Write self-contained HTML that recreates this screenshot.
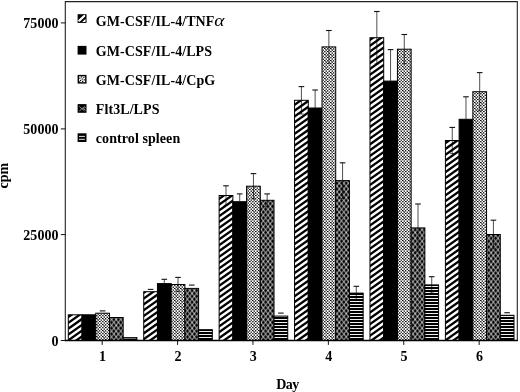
<!DOCTYPE html>
<html lang="en"><head><meta charset="utf-8"><title>cpm by Day</title>
<style>
html,body{margin:0;padding:0;background:#fff;}
body{width:520px;height:392px;overflow:hidden;}
svg{display:block;}
text{font-family:"Liberation Serif","DejaVu Serif",serif;font-weight:bold;font-size:14px;fill:#000;}
</style></head><body>
<svg width="520" height="392" viewBox="0 0 520 392">
<defs>
<pattern id="p1" patternUnits="userSpaceOnUse" width="82" height="58" x="0" y="0"><rect width="82" height="58" fill="#fff"/><path d="M-5,-8.063 L87,-73.137 M-5,-2.263 L87,-67.337 M-5,3.537 L87,-61.537 M-5,9.337 L87,-55.737 M-5,15.137 L87,-49.937 M-5,20.937 L87,-44.137 M-5,26.737 L87,-38.337 M-5,32.537 L87,-32.537 M-5,38.337 L87,-26.737 M-5,44.137 L87,-20.937 M-5,49.937 L87,-15.137 M-5,55.737 L87,-9.337 M-5,61.537 L87,-3.537 M-5,67.337 L87,2.263 M-5,73.137 L87,8.063 M-5,78.937 L87,13.863 M-5,84.737 L87,19.663 M-5,90.537 L87,25.463 M-5,96.337 L87,31.263 M-5,102.137 L87,37.063 M-5,107.937 L87,42.863 M-5,113.737 L87,48.663 M-5,119.537 L87,54.463 M-5,125.337 L87,60.263 M-5,131.137 L87,66.063 M-5,136.937 L87,71.863" stroke="#000" stroke-width="2.3" fill="none"/></pattern>
<pattern id="p3" patternUnits="userSpaceOnUse" width="6" height="6" x="0" y="0">
<rect width="6" height="6" fill="#fff"/>
<g fill="#000">
<rect x="0" y="0" width="1.5" height="1.1"/><rect x="3" y="0.2" width="1.3" height="1.3"/>
<rect x="1.5" y="1.5" width="1.5" height="1.2"/><rect x="4.6" y="1.6" width="1.4" height="1.1"/>
<rect x="0.2" y="3" width="1.3" height="1.3"/><rect x="3" y="3" width="1.6" height="1.1"/>
<rect x="1.6" y="4.5" width="1.4" height="1.2"/><rect x="4.5" y="4.6" width="1.5" height="1.2"/>
<rect x="1.0" y="0.9" width="0.7" height="0.7"/>
</g>
</pattern>
<pattern id="p4" patternUnits="userSpaceOnUse" width="46" height="58" x="1.2" y="0.5"><rect width="46" height="58" fill="#000"/><path d="M-5,-63.296 L51,-133.904 M-5,-75.904 L51,-5.296 M-5,-57.496 L51,-128.104 M-5,-70.104 L51,0.504 M-5,-51.696 L51,-122.304 M-5,-64.304 L51,6.304 M-5,-45.896 L51,-116.504 M-5,-58.504 L51,12.104 M-5,-40.096 L51,-110.704 M-5,-52.704 L51,17.904 M-5,-34.296 L51,-104.904 M-5,-46.904 L51,23.704 M-5,-28.496 L51,-99.104 M-5,-41.104 L51,29.504 M-5,-22.696 L51,-93.304 M-5,-35.304 L51,35.304 M-5,-16.896 L51,-87.504 M-5,-29.504 L51,41.104 M-5,-11.096 L51,-81.704 M-5,-23.704 L51,46.904 M-5,-5.296 L51,-75.904 M-5,-17.904 L51,52.704 M-5,0.504 L51,-70.104 M-5,-12.104 L51,58.504 M-5,6.304 L51,-64.304 M-5,-6.304 L51,64.304 M-5,12.104 L51,-58.504 M-5,-0.504 L51,70.104 M-5,17.904 L51,-52.704 M-5,5.296 L51,75.904 M-5,23.704 L51,-46.904 M-5,11.096 L51,81.704 M-5,29.504 L51,-41.104 M-5,16.896 L51,87.504 M-5,35.304 L51,-35.304 M-5,22.696 L51,93.304 M-5,41.104 L51,-29.504 M-5,28.496 L51,99.104 M-5,46.904 L51,-23.704 M-5,34.296 L51,104.904 M-5,52.704 L51,-17.904 M-5,40.096 L51,110.704 M-5,58.504 L51,-12.104 M-5,45.896 L51,116.504 M-5,64.304 L51,-6.304 M-5,51.696 L51,122.304 M-5,70.104 L51,-0.504 M-5,57.496 L51,128.104 M-5,75.904 L51,5.296 M-5,63.296 L51,133.904 M-5,81.704 L51,11.096 M-5,69.096 L51,139.704 M-5,87.504 L51,16.896 M-5,74.896 L51,145.504 M-5,93.304 L51,22.696 M-5,80.696 L51,151.304 M-5,99.104 L51,28.496 M-5,86.496 L51,157.104 M-5,104.904 L51,34.296 M-5,92.296 L51,162.904 M-5,110.704 L51,40.096 M-5,98.096 L51,168.704 M-5,116.504 L51,45.896 M-5,103.896 L51,174.504 M-5,122.304 L51,51.696 M-5,109.696 L51,180.304 M-5,128.104 L51,57.496 M-5,115.496 L51,186.104 M-5,133.904 L51,63.296 M-5,121.296 L51,191.904 M-5,139.704 L51,69.096 M-5,127.096 L51,197.704 M-5,145.504 L51,74.896 M-5,132.896 L51,203.504 M-5,151.304 L51,80.696 M-5,138.696 L51,209.304 M-5,157.104 L51,86.496 M-5,144.496 L51,215.104 M-5,162.904 L51,92.296 M-5,150.296 L51,220.904 M-5,168.704 L51,98.096 M-5,156.096 L51,226.704 M-5,174.504 L51,103.896 M-5,161.896 L51,232.504 M-5,180.304 L51,109.696 M-5,167.696 L51,238.304 M-5,186.104 L51,115.496 M-5,173.496 L51,244.104 M-5,191.904 L51,121.296 M-5,179.296 L51,249.904 M-5,197.704 L51,127.096 M-5,185.096 L51,255.704 M-5,203.504 L51,132.896 M-5,190.896 L51,261.504 M-5,209.304 L51,138.696 M-5,196.696 L51,267.304" stroke="#eee" stroke-width="0.9" fill="none"/></pattern>
<pattern id="p5" patternUnits="userSpaceOnUse" width="10" height="60" x="0" y="41"><rect width="10" height="60" fill="#000"/><rect y="2.00" width="10" height="1" fill="#f0f0f0"/><rect y="5.00" width="10" height="1" fill="#f0f0f0"/><rect y="8.00" width="10" height="1" fill="#f0f0f0"/><rect y="11.00" width="10" height="1" fill="#f0f0f0"/><rect y="14.00" width="10" height="1" fill="#f0f0f0"/><rect y="17.00" width="10" height="1" fill="#f0f0f0"/><rect y="20.00" width="10" height="1" fill="#f0f0f0"/><rect y="23.00" width="10" height="1" fill="#f0f0f0"/><rect y="26.00" width="10" height="1" fill="#f0f0f0"/><rect y="29.00" width="10" height="1" fill="#f0f0f0"/><rect y="32.00" width="10" height="1" fill="#f0f0f0"/><rect y="35.00" width="10" height="1" fill="#f0f0f0"/><rect y="38.00" width="10" height="1" fill="#f0f0f0"/><rect y="41.00" width="10" height="1" fill="#f0f0f0"/><rect y="44.00" width="10" height="1" fill="#f0f0f0"/><rect y="47.00" width="10" height="1" fill="#f0f0f0"/><rect y="50.00" width="10" height="1" fill="#f0f0f0"/><rect y="53.00" width="10" height="1" fill="#f0f0f0"/><rect y="56.00" width="10" height="1" fill="#f0f0f0"/><rect y="59.00" width="10" height="1" fill="#f0f0f0"/></pattern>
</defs>
<rect width="520" height="392" fill="#fff"/>

<rect x="68.30" y="314.80" width="13.72" height="25.70" fill="url(#p1)" stroke="#000" stroke-width="1"/>
<rect x="82.02" y="314.80" width="13.72" height="25.70" fill="#000" stroke="#000" stroke-width="1"/>
<rect x="95.74" y="313.20" width="13.72" height="27.30" fill="url(#p3)" stroke="#000" stroke-width="1"/>
<path d="M99.80,310.90 H105.40" stroke="#111" stroke-width="1.1" fill="none"/>
<rect x="109.46" y="317.50" width="13.72" height="23.00" fill="url(#p4)" stroke="#000" stroke-width="1"/>
<rect x="123.18" y="337.50" width="13.72" height="3.00" fill="url(#p5)" stroke="#000" stroke-width="1"/>
<rect x="143.72" y="291.70" width="13.72" height="48.80" fill="url(#p1)" stroke="#000" stroke-width="1"/>
<path d="M147.78,289.40 H153.38" stroke="#111" stroke-width="1.1" fill="none"/>
<rect x="157.44" y="283.60" width="13.72" height="56.90" fill="#000" stroke="#000" stroke-width="1"/>
<path d="M164.30,283.60 V279.30" stroke="#222" stroke-width="0.8" fill="none"/>
<path d="M161.50,279.30 H167.10" stroke="#111" stroke-width="1.1" fill="none"/>
<rect x="171.16" y="284.50" width="13.72" height="56.00" fill="url(#p3)" stroke="#000" stroke-width="1"/>
<path d="M178.02,284.50 V277.40" stroke="#222" stroke-width="0.8" fill="none"/>
<path d="M175.22,277.40 H180.82" stroke="#111" stroke-width="1.1" fill="none"/>
<path d="M178.02,284.50 V291.60 M175.82,291.60 H180.22" stroke="#000" stroke-width="0.85" fill="none" opacity="0.8"/>
<rect x="184.88" y="288.40" width="13.72" height="52.10" fill="url(#p4)" stroke="#000" stroke-width="1"/>
<path d="M188.94,285.10 H194.54" stroke="#111" stroke-width="1.1" fill="none"/>
<rect x="198.60" y="329.70" width="13.72" height="10.80" fill="url(#p5)" stroke="#000" stroke-width="1"/>
<rect x="219.14" y="195.50" width="13.72" height="145.00" fill="url(#p1)" stroke="#000" stroke-width="1"/>
<path d="M226.00,195.50 V185.80" stroke="#222" stroke-width="0.8" fill="none"/>
<path d="M223.20,185.80 H228.80" stroke="#111" stroke-width="1.1" fill="none"/>
<path d="M226.00,195.50 V205.20 M223.80,205.20 H228.20" stroke="#000" stroke-width="0.85" fill="none" opacity="0.8"/>
<rect x="232.86" y="201.70" width="13.72" height="138.80" fill="#000" stroke="#000" stroke-width="1"/>
<path d="M239.72,201.70 V193.90" stroke="#222" stroke-width="0.8" fill="none"/>
<path d="M236.92,193.90 H242.52" stroke="#111" stroke-width="1.1" fill="none"/>
<rect x="246.58" y="186.20" width="13.72" height="154.30" fill="url(#p3)" stroke="#000" stroke-width="1"/>
<path d="M253.44,186.20 V173.60" stroke="#222" stroke-width="0.8" fill="none"/>
<path d="M250.64,173.60 H256.24" stroke="#111" stroke-width="1.1" fill="none"/>
<path d="M253.44,186.20 V198.80 M251.24,198.80 H255.64" stroke="#000" stroke-width="0.85" fill="none" opacity="0.8"/>
<rect x="260.30" y="200.30" width="13.72" height="140.20" fill="url(#p4)" stroke="#000" stroke-width="1"/>
<path d="M267.16,200.30 V193.90" stroke="#222" stroke-width="0.8" fill="none"/>
<path d="M264.36,193.90 H269.96" stroke="#111" stroke-width="1.1" fill="none"/>
<path d="M267.16,200.30 V206.70 M264.96,206.70 H269.36" stroke="#000" stroke-width="0.85" fill="none" opacity="0.8"/>
<rect x="274.02" y="316.10" width="13.72" height="24.40" fill="url(#p5)" stroke="#000" stroke-width="1"/>
<path d="M278.08,313.10 H283.68" stroke="#111" stroke-width="1.1" fill="none"/>
<rect x="294.56" y="100.30" width="13.72" height="240.20" fill="url(#p1)" stroke="#000" stroke-width="1"/>
<path d="M301.42,100.30 V86.60" stroke="#222" stroke-width="0.8" fill="none"/>
<path d="M298.62,86.60 H304.22" stroke="#111" stroke-width="1.1" fill="none"/>
<path d="M301.42,100.30 V114.00 M299.22,114.00 H303.62" stroke="#000" stroke-width="0.85" fill="none" opacity="0.8"/>
<rect x="308.28" y="108.00" width="13.72" height="232.50" fill="#000" stroke="#000" stroke-width="1"/>
<path d="M315.14,108.00 V90.00" stroke="#222" stroke-width="0.8" fill="none"/>
<path d="M312.34,90.00 H317.94" stroke="#111" stroke-width="1.1" fill="none"/>
<rect x="322.00" y="46.90" width="13.72" height="293.60" fill="url(#p3)" stroke="#000" stroke-width="1"/>
<path d="M328.86,46.90 V30.50" stroke="#222" stroke-width="0.8" fill="none"/>
<path d="M326.06,30.50 H331.66" stroke="#111" stroke-width="1.1" fill="none"/>
<path d="M328.86,46.90 V63.30 M326.66,63.30 H331.06" stroke="#000" stroke-width="0.85" fill="none" opacity="0.8"/>
<rect x="335.72" y="180.60" width="13.72" height="159.90" fill="url(#p4)" stroke="#000" stroke-width="1"/>
<path d="M342.58,180.60 V162.80" stroke="#222" stroke-width="0.8" fill="none"/>
<path d="M339.78,162.80 H345.38" stroke="#111" stroke-width="1.1" fill="none"/>
<path d="M342.58,180.60 V198.40 M340.38,198.40 H344.78" stroke="#000" stroke-width="0.85" fill="none" opacity="0.8"/>
<rect x="349.44" y="293.10" width="13.72" height="47.40" fill="url(#p5)" stroke="#000" stroke-width="1"/>
<path d="M356.30,293.10 V286.30" stroke="#222" stroke-width="0.8" fill="none"/>
<path d="M353.50,286.30 H359.10" stroke="#111" stroke-width="1.1" fill="none"/>
<path d="M356.30,293.10 V299.90 M354.10,299.90 H358.50" stroke="#000" stroke-width="0.85" fill="none" opacity="0.8"/>
<rect x="369.98" y="37.70" width="13.72" height="302.80" fill="url(#p1)" stroke="#000" stroke-width="1"/>
<path d="M376.84,37.70 V11.50" stroke="#222" stroke-width="0.8" fill="none"/>
<path d="M374.04,11.50 H379.64" stroke="#111" stroke-width="1.1" fill="none"/>
<path d="M376.84,37.70 V63.90 M374.64,63.90 H379.04" stroke="#000" stroke-width="0.85" fill="none" opacity="0.8"/>
<rect x="383.70" y="81.10" width="13.72" height="259.40" fill="#000" stroke="#000" stroke-width="1"/>
<path d="M390.56,81.10 V49.60" stroke="#222" stroke-width="0.8" fill="none"/>
<path d="M387.76,49.60 H393.36" stroke="#111" stroke-width="1.1" fill="none"/>
<rect x="397.42" y="49.20" width="13.72" height="291.30" fill="url(#p3)" stroke="#000" stroke-width="1"/>
<path d="M404.28,49.20 V34.50" stroke="#222" stroke-width="0.8" fill="none"/>
<path d="M401.48,34.50 H407.08" stroke="#111" stroke-width="1.1" fill="none"/>
<path d="M404.28,49.20 V63.90 M402.08,63.90 H406.48" stroke="#000" stroke-width="0.85" fill="none" opacity="0.8"/>
<rect x="411.14" y="227.90" width="13.72" height="112.60" fill="url(#p4)" stroke="#000" stroke-width="1"/>
<path d="M418.00,227.90 V204.00" stroke="#222" stroke-width="0.8" fill="none"/>
<path d="M415.20,204.00 H420.80" stroke="#111" stroke-width="1.1" fill="none"/>
<path d="M418.00,227.90 V251.80 M415.80,251.80 H420.20" stroke="#000" stroke-width="0.85" fill="none" opacity="0.8"/>
<rect x="424.86" y="284.90" width="13.72" height="55.60" fill="url(#p5)" stroke="#000" stroke-width="1"/>
<path d="M431.72,284.90 V276.70" stroke="#222" stroke-width="0.8" fill="none"/>
<path d="M428.92,276.70 H434.52" stroke="#111" stroke-width="1.1" fill="none"/>
<path d="M431.72,284.90 V293.10 M429.52,293.10 H433.92" stroke="#000" stroke-width="0.85" fill="none" opacity="0.8"/>
<rect x="445.40" y="140.50" width="13.72" height="200.00" fill="url(#p1)" stroke="#000" stroke-width="1"/>
<path d="M452.26,140.50 V127.40" stroke="#222" stroke-width="0.8" fill="none"/>
<path d="M449.46,127.40 H455.06" stroke="#111" stroke-width="1.1" fill="none"/>
<path d="M452.26,140.50 V153.60 M450.06,153.60 H454.46" stroke="#000" stroke-width="0.85" fill="none" opacity="0.8"/>
<rect x="459.12" y="119.30" width="13.72" height="221.20" fill="#000" stroke="#000" stroke-width="1"/>
<path d="M465.98,119.30 V96.80" stroke="#222" stroke-width="0.8" fill="none"/>
<path d="M463.18,96.80 H468.78" stroke="#111" stroke-width="1.1" fill="none"/>
<rect x="472.84" y="91.70" width="13.72" height="248.80" fill="url(#p3)" stroke="#000" stroke-width="1"/>
<path d="M479.70,91.70 V72.60" stroke="#222" stroke-width="0.8" fill="none"/>
<path d="M476.90,72.60 H482.50" stroke="#111" stroke-width="1.1" fill="none"/>
<path d="M479.70,91.70 V110.80 M477.50,110.80 H481.90" stroke="#000" stroke-width="0.85" fill="none" opacity="0.8"/>
<rect x="486.56" y="234.50" width="13.72" height="106.00" fill="url(#p4)" stroke="#000" stroke-width="1"/>
<path d="M493.42,234.50 V220.20" stroke="#222" stroke-width="0.8" fill="none"/>
<path d="M490.62,220.20 H496.22" stroke="#111" stroke-width="1.1" fill="none"/>
<path d="M493.42,234.50 V248.80 M491.22,248.80 H495.62" stroke="#000" stroke-width="0.85" fill="none" opacity="0.8"/>
<rect x="500.28" y="315.30" width="13.72" height="25.20" fill="url(#p5)" stroke="#000" stroke-width="1"/>
<path d="M504.34,312.70 H509.94" stroke="#111" stroke-width="1.1" fill="none"/>
<path d="M123.78,338.3 H136.30" stroke="#9a9a9a" stroke-width="0.9" fill="none"/>
<path d="M65.3,340.5 V1.6 H517.3 V340.5" stroke="#222" stroke-width="1.1" fill="none"/>
<path d="M64.7,340.5 H517.9" stroke="#000" stroke-width="1.5" fill="none"/>
<path d="M60.8,340.5 H65.3" stroke="#111" stroke-width="1" fill="none"/>
<text x="58.7" y="345.7" text-anchor="end" letter-spacing="0.1">0</text>
<path d="M60.8,234.6 H65.3" stroke="#111" stroke-width="1" fill="none"/>
<text x="58.7" y="239.8" text-anchor="end" letter-spacing="0.1">25000</text>
<path d="M60.8,128.9 H65.3" stroke="#111" stroke-width="1" fill="none"/>
<text x="58.7" y="134.1" text-anchor="end" letter-spacing="0.1">50000</text>
<path d="M60.8,22.9 H65.3" stroke="#111" stroke-width="1" fill="none"/>
<text x="58.7" y="28.1" text-anchor="end" letter-spacing="0.1">75000</text>
<path d="M102.20,340.5 V344.9" stroke="#111" stroke-width="1" fill="none"/>
<text x="102.50" y="360.6" text-anchor="middle">1</text>
<path d="M177.59,340.5 V344.9" stroke="#111" stroke-width="1" fill="none"/>
<text x="177.89" y="360.6" text-anchor="middle">2</text>
<path d="M252.98,340.5 V344.9" stroke="#111" stroke-width="1" fill="none"/>
<text x="253.28" y="360.6" text-anchor="middle">3</text>
<path d="M328.37,340.5 V344.9" stroke="#111" stroke-width="1" fill="none"/>
<text x="328.67" y="360.6" text-anchor="middle">4</text>
<path d="M403.76,340.5 V344.9" stroke="#111" stroke-width="1" fill="none"/>
<text x="404.06" y="360.6" text-anchor="middle">5</text>
<path d="M479.15,340.5 V344.9" stroke="#111" stroke-width="1" fill="none"/>
<text x="479.45" y="360.6" text-anchor="middle">6</text>
<text x="276.3" y="388.7" letter-spacing="-0.6">Day</text>
<text transform="translate(8.0,175.7) rotate(-90)" text-anchor="middle">cpm</text>
<rect x="77.6" y="14.2" width="8.9" height="8.7" fill="#000"/>
<path d="M79.2,20.6 L84.2,16.0" stroke="#fff" stroke-width="2.2" stroke-linecap="round" fill="none"/>
<path d="M82.2,21.9 L85.5,18.8 V21.9 Z" fill="#fff"/>
<text x="95.8" y="25.7" letter-spacing="0.08">GM-CSF/IL-4/TNF</text>
<rect x="77.6" y="45.9" width="8.9" height="8.7" fill="#000"/>
<text x="95.8" y="55.5" letter-spacing="0.08">GM-CSF/IL-4/LPS</text>
<rect x="77.6" y="74.9" width="8.9" height="8.7" fill="#000"/>
<rect x="79.0" y="76.3" width="6.1" height="5.9" fill="#fff"/>
<rect x="79.2" y="77.6" width="1.3" height="1.1" fill="#000"/>
<rect x="80.9" y="76.4" width="1.3" height="1.1" fill="#000"/>
<rect x="83.2" y="76.8" width="1.3" height="1.1" fill="#000"/>
<rect x="81.6" y="78.5" width="1.3" height="1.1" fill="#000"/>
<rect x="79.9" y="79.9" width="1.3" height="1.1" fill="#000"/>
<rect x="83.6" y="79.3" width="1.3" height="1.1" fill="#000"/>
<rect x="82.0" y="80.8" width="1.3" height="1.1" fill="#000"/>
<rect x="79.0" y="81.3" width="1.3" height="1.1" fill="#000"/>
<text x="95.8" y="84.6" letter-spacing="0.08">GM-CSF/IL-4/CpG</text>
<rect x="77.6" y="104.1" width="8.9" height="8.7" fill="#000"/>
<path d="M79.3,106.4 L84.6,111.1 M79.3,111.1 L84.6,106.4 M85.6,107.3 L83.4,108.7 L85.6,110.3" stroke="#ccc" stroke-width="0.7" fill="none"/>
<text x="95.8" y="113.8" letter-spacing="0.08">Flt3L/LPS</text>
<rect x="77.6" y="133.3" width="8.9" height="8.7" fill="#000"/>
<path d="M79.0,136.4 H84.9 M79.0,139.3 H84.9" stroke="#fff" stroke-width="0.9" fill="none"/>
<text x="95.8" y="143.0" letter-spacing="0.08">control spleen</text>
<text transform="translate(214.3,25.9) scale(1.18,1)" font-weight="normal" font-style="italic" style="font-weight:normal;font-style:italic;font-size:16.5px">α</text>
</svg>
</body></html>
